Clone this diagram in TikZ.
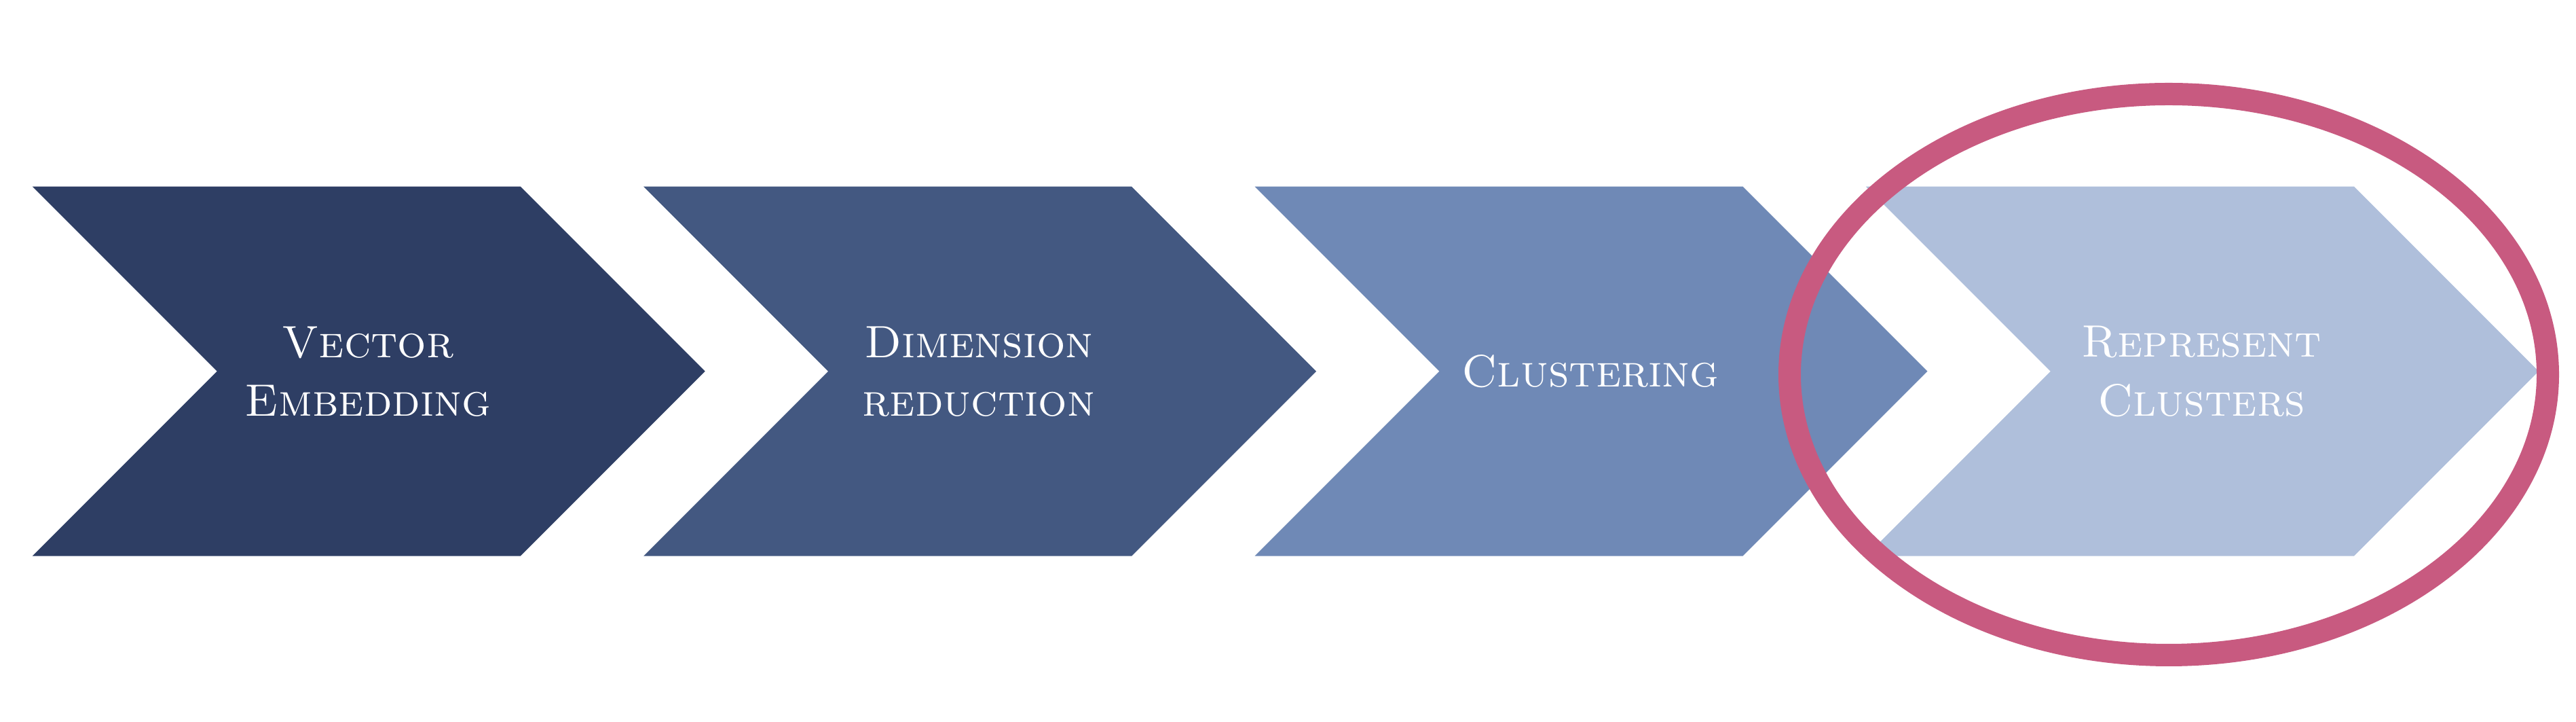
\documentclass[tikz,border=0pt]{standalone}
\usepackage{fontspec}
\usepackage{xcolor}
\usetikzlibrary{shapes.geometric, positioning}
\definecolor{pipenavy}{RGB}{46, 62, 100}
\definecolor{pipeslate}{RGB}{67, 88, 129}
\definecolor{pipesteel}{RGB}{111, 137, 182}
\definecolor{pipesky}{RGB}{175, 191, 219}
\definecolor{piperose}{RGB}{200, 90, 128}

\begin{document}
\begin{tikzpicture}[
    chevron/.style={
        draw=none
    },
    stagetext/.style={
        text=white,
        align=center,
        font=\fontsize{19}{24.5}\selectfont\scshape,
        inner sep=0pt
    },
    highlight/.style={
        ellipse,
        draw=piperose,
        line width=0.33cm,
        inner sep=0pt
    }
]

% Background
\fill[white] (0,0) rectangle (37.95,10.63);

% Chevrons
\fill[chevron, pipenavy] (0.477,7.883) -- ++(7.19,0) -- ++(2.72,-2.72) -- ++(-2.72,-2.72) -- ++(-7.19,0) -- ++(2.72,2.72) -- cycle;
\fill[chevron, pipeslate] (9.481,7.883) -- ++(7.19,0) -- ++(2.72,-2.72) -- ++(-2.72,-2.72) -- ++(-7.19,0) -- ++(2.72,2.72) -- cycle;
\fill[chevron, pipesteel] (18.485,7.883) -- ++(7.19,0) -- ++(2.72,-2.72) -- ++(-2.72,-2.72) -- ++(-7.19,0) -- ++(2.72,2.72) -- cycle;
\fill[chevron, pipesky] (27.489,7.883) -- ++(7.19,0) -- ++(2.72,-2.72) -- ++(-2.72,-2.72) -- ++(-7.19,0) -- ++(2.72,2.72) -- cycle;

% Stage labels
\node[stagetext] (embed) at (5.42,5.16) {Vector\\Embedding};
\node[stagetext] (reduce) at (14.42,5.16) {Dimension\\reduction};
\node[stagetext] (cluster) at (23.43,5.16) {Clustering};
\node[stagetext] (represent) at (32.43,5.16) {Represent\\Clusters};

% Focus ring
\node[highlight, minimum width=11.17cm, minimum height=8.26cm] (focus) at (31.95,5.115) {};

\end{tikzpicture}
\end{document}
